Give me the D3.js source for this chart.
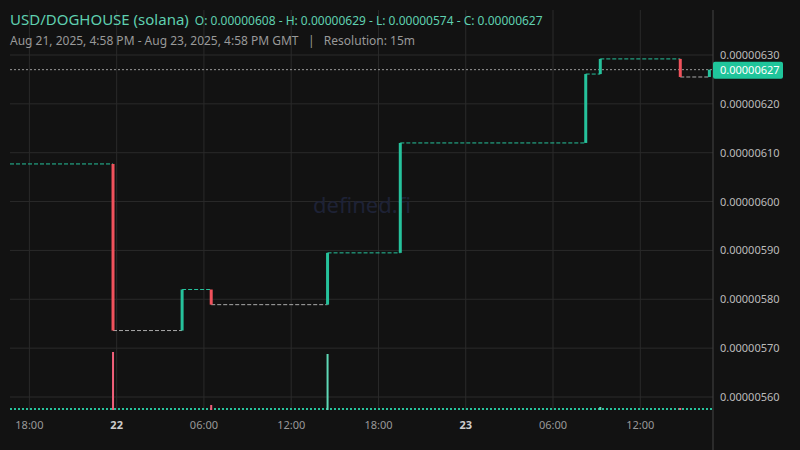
<!DOCTYPE html>
<html><head><meta charset="utf-8">
<script src="https://cdn.jsdelivr.net/npm/d3@7"></script>
<style>body{margin:0;background:#121212}svg{display:block}text{font-family:"Noto Sans","Open Sans",sans-serif}</style>
</head><body><svg id="c" width="800" height="450"></svg>
<script>
const candleTimes = ["2025-08-21T23:45Z","2025-08-22T04:30Z","2025-08-22T06:30Z","2025-08-22T14:30Z","2025-08-22T19:30Z","2025-08-23T08:15Z","2025-08-23T09:15Z","2025-08-23T14:45Z","2025-08-23T16:45Z"];
const opens  = [6.077e-6,5.736e-6,5.820e-6,5.789e-6,5.895e-6,6.120e-6,6.261e-6,6.292e-6,6.255e-6];
const closes = [5.736e-6,5.820e-6,5.789e-6,5.895e-6,6.120e-6,6.261e-6,6.292e-6,6.255e-6,6.270e-6];
const volumes= [58,0,5,56,0,0,3,2,0];
const startTime = "2025-08-21T16:40Z", endTime = "2025-08-23T17:00Z";
const priceTicks = [5.6e-6,5.7e-6,5.8e-6,5.9e-6,6.0e-6,6.1e-6,6.2e-6,6.3e-6];
const lastPrice = 6.27e-6;
const green="#26c29c", red="#f0525c";
const svg=d3.select("#c");
const x=d3.scaleUtc().domain([new Date(startTime),new Date(endTime)]).range([10,713]);
const y=d3.scaleLinear().domain([5.6e-6,6.3e-6]).range([397,55]);
const vy=d3.scaleLinear().domain([0,60]).range([410,350]);
const g=svg.append("g");
const tks=x.ticks(d3.utcHour.every(6));
g.selectAll(".vg").data(tks).join("line").attr("x1",d=>x(d)).attr("x2",d=>x(d)).attr("y1",10).attr("y2",410).attr("stroke","#2a2a2a");
g.selectAll(".hg").data(priceTicks).join("line").attr("x1",10).attr("x2",713).attr("y1",d=>y(d)).attr("y2",d=>y(d)).attr("stroke","#2a2a2a");
g.append("line").attr("x1",713).attr("x2",713).attr("y1",10).attr("y2",450).attr("stroke","#444");
g.selectAll(".tl").data(tks).join("text").attr("x",d=>x(d)).attr("y",429).attr("text-anchor","middle").attr("font-size",11)
 .attr("fill",d=>d.getUTCHours()===0?"#ccc":"#999").attr("font-weight",d=>d.getUTCHours()===0?"bold":"normal")
 .text(d=>d.getUTCHours()===0?d3.utcFormat("%-d")(d):d3.utcFormat("%H:%M")(d));
g.selectAll(".pl").data(priceTicks).join("text").attr("x",720).attr("y",d=>y(d)+4).attr("font-size",11).attr("fill","#bbb").text(d=>d.toFixed(8));
g.append("text").attr("x",362).attr("y",213).attr("text-anchor","middle").attr("font-size",22).attr("fill","#1e2236").text("defined.fi");
const times=candleTimes.map(t=>new Date(t));
const segs=[{t0:new Date(startTime),t1:times[0],p:opens[0],c:green}];
for(let i=0;i<times.length-1;i++) segs.push({t0:times[i],t1:times[i+1],p:closes[i],c:closes[i]>=opens[i]?green:"#aaa"});
g.selectAll(".seg").data(segs).join("line").attr("x1",d=>x(d.t0)).attr("x2",d=>x(d.t1)).attr("y1",d=>y(d.p)).attr("y2",d=>y(d.p))
 .attr("stroke",d=>d.c).attr("stroke-dasharray","4,2").attr("stroke-width",1);
g.append("line").attr("x1",10).attr("x2",713).attr("y1",y(lastPrice)).attr("y2",y(lastPrice)).attr("stroke","#999").attr("stroke-dasharray","2,2");
g.selectAll(".cd").data(times).join("rect").attr("x",d=>x(d)-1.5).attr("width",3)
 .attr("y",(d,i)=>y(Math.max(opens[i],closes[i]))).attr("height",(d,i)=>Math.abs(y(opens[i])-y(closes[i])))
 .attr("fill",(d,i)=>closes[i]>=opens[i]?green:red);
g.append("line").attr("x1",10).attr("x2",713).attr("y1",409).attr("y2",409).attr("stroke",green).attr("stroke-width",2).attr("stroke-dasharray","2,2");
g.selectAll(".vb").data(times).join("rect").attr("x",d=>x(d)-1).attr("width",2)
 .attr("y",(d,i)=>vy(volumes[i])).attr("height",(d,i)=>410-vy(volumes[i]))
 .attr("fill",(d,i)=>closes[i]>=opens[i]?"#5fd8b6":"#f0607a");
g.append("rect").attr("x",713).attr("y",y(lastPrice)-8).attr("width",70).attr("height",17).attr("rx",2).attr("fill","#1fc59b");
g.append("text").attr("x",720).attr("y",y(lastPrice)+4).attr("font-size",11).attr("fill","#fff").text(lastPrice.toFixed(8));
const h=svg.append("text").attr("x",10).attr("y",25).attr("fill","#5fd0b0");
h.append("tspan").attr("font-size",15).text("USD/DOGHOUSE (solana)");
h.append("tspan").attr("dx",6).attr("font-size",12).text("O: 0.00000608 - H: 0.00000629 - L: 0.00000574 - C: 0.00000627");
svg.append("text").attr("x",10).attr("y",45).attr("font-size",12).attr("fill","#999").attr("xml:space","preserve").text("Aug 21, 2025, 4:58 PM - Aug 23, 2025, 4:58 PM GMT   |   Resolution: 15m");
</script></body></html>
